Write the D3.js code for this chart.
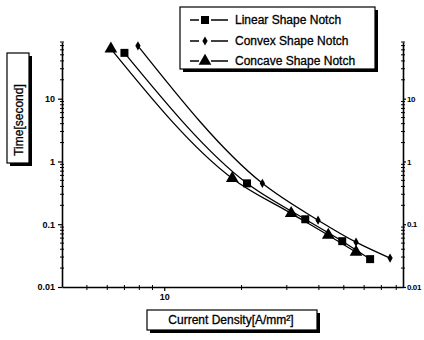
<!DOCTYPE html>
<html lang="en">
<head>
  <meta charset="UTF-8">
  <title>Notch time vs current density</title>
  <script src="https://d3js.org/d3.v7.min.js"></script>
  <style>
    body { margin: 0; background: #fff; }
    text { font-family: "Liberation Sans", Arial, sans-serif; fill: #000; }
  </style>
</head>
<body>
  <svg id="chart" width="424" height="340"></svg>
  <script>
    // data (current density A/mm2, time s)
    let seriesNames = ['Linear Shape Notch', 'Convex Shape Notch', 'Concave Shape Notch'];
    let linearX = [7.0, 21.0, 35.4, 49.3, 63.3];
    let linearY = [53.7, 0.448, 0.120, 0.0537, 0.0278];
    let convexX = [7.9, 24.1, 39.7, 55.8, 75.7];
    let convexY = [69.4, 0.448, 0.116, 0.0518, 0.0289];
    let concaveX = [6.2, 18.4, 31.2, 43.5, 55.8];
    let concaveY = [62.2, 0.537, 0.149, 0.0669, 0.0359];

    let yTicks = [0.01, 0.1, 1, 10];
    let yTickLabels = ['0.01', '0.1', '1', '10'];
    let xTicks = [10];
    let xTickLabels = ['10'];

    let svg = d3.select('#chart');

    let x = d3.scaleLog().domain([4, 85]).range([62, 403]);
    let y = d3.scaleLog().domain([0.01, 80]).range([287, 42]);

    // minor ticks for the log axes
    let yMinor = [];
    [0.01, 0.1, 1, 10].forEach(function (d) {
      for (let k = 2; k <= 9; k++) if (d * k <= 80) yMinor.push(d * k);
    });
    let xMinor = [5, 6, 7, 8, 9, 20, 30, 40, 50, 60, 70, 80];

    function styleAxis(g) {
      g.select('.domain').attr('stroke', '#000').attr('stroke-width', 1.6);
      g.selectAll('.tick line').attr('stroke', '#000').attr('stroke-width', 1.2);
      g.selectAll('text').attr('font-size', 9).attr('font-weight', 'bold');
    }

    // left axis
    svg.append('g')
      .attr('transform', 'translate(62,0)')
      .call(d3.axisLeft(y).tickValues(yTicks).tickSize(4).tickSizeOuter(0)
        .tickFormat(function (d, i) { return yTickLabels[i]; }))
      .call(styleAxis);
    svg.append('g').selectAll('line').data(yMinor).join('line')
      .attr('x1', 60).attr('x2', 64)
      .attr('y1', function (d) { return y(d); }).attr('y2', function (d) { return y(d); })
      .attr('stroke', '#000').attr('stroke-width', 1);

    // right axis (labels squeezed so 0.01 stays inside the window)
    svg.append('g')
      .attr('transform', 'translate(403,0)')
      .call(d3.axisRight(y).tickValues(yTicks).tickSize(3).tickPadding(1).tickSizeOuter(0)
        .tickFormat(function (d, i) { return yTickLabels[i]; }))
      .call(styleAxis)
      .call(function (g) { g.selectAll('text').attr('font-size', 8).attr('letter-spacing', -0.4); });
    svg.append('g').selectAll('line').data(yMinor).join('line')
      .attr('x1', 401).attr('x2', 405)
      .attr('y1', function (d) { return y(d); }).attr('y2', function (d) { return y(d); })
      .attr('stroke', '#000').attr('stroke-width', 1);

    // bottom axis
    svg.append('g')
      .attr('transform', 'translate(0,287)')
      .call(d3.axisBottom(x).tickValues(xTicks).tickSize(4).tickSizeOuter(0)
        .tickFormat(function (d, i) { return xTickLabels[i]; }))
      .call(styleAxis);
    svg.append('g').selectAll('line').data(xMinor).join('line')
      .attr('y1', 285).attr('y2', 290)
      .attr('x1', function (d) { return x(d); }).attr('x2', function (d) { return x(d); })
      .attr('stroke', '#000').attr('stroke-width', 1);

    // series
    let series = [
      { name: seriesNames[0], xs: linearX, ys: linearY, shape: 'square' },
      { name: seriesNames[1], xs: convexX, ys: convexY, shape: 'diamond' },
      { name: seriesNames[2], xs: concaveX, ys: concaveY, shape: 'triangle' }
    ];

    let symbols = {
      square: d3.symbol().type(d3.symbolSquare).size(64),
      diamond: d3.symbol().type(d3.symbolDiamond).size(24),
      triangle: d3.symbol().type(d3.symbolTriangle).size(70)
    };

    let line = d3.line()
      .x(function (d) { return x(d[0]); })
      .y(function (d) { return y(d[1]); })
      .curve(d3.curveMonotoneX);

    series.forEach(function (s) {
      let pts = s.xs.map(function (v, i) { return [v, s.ys[i]]; });
      svg.append('path')
        .attr('d', line(pts))
        .attr('fill', 'none')
        .attr('stroke', '#000')
        .attr('stroke-width', 1.3);
      svg.append('g').selectAll('path').data(pts).join('path')
        .attr('transform', function (d) { return 'translate(' + x(d[0]) + ',' + y(d[1]) + ')'; })
        .attr('d', symbols[s.shape]())
        .attr('fill', '#000');
    });

    // legend box with drop shadow
    let legend = svg.append('g');
    legend.append('rect').attr('x', 183).attr('y', 10).attr('width', 195).attr('height', 62).attr('fill', '#000');
    legend.append('rect').attr('x', 180).attr('y', 7).attr('width', 195).attr('height', 62)
      .attr('fill', '#fff').attr('stroke', '#000').attr('stroke-width', 1.2);
    let legendY = [20, 41, 61];
    series.forEach(function (s, i) {
      legend.append('line').attr('x1', 190).attr('x2', 228)
        .attr('y1', legendY[i]).attr('y2', legendY[i])
        .attr('stroke', '#000').attr('stroke-width', 1.3);
      legend.append('rect').attr('x', 199).attr('y', legendY[i] - 5).attr('width', 12).attr('height', 10).attr('fill', '#fff');
      legend.append('path')
        .attr('transform', 'translate(205,' + legendY[i] + ')')
        .attr('d', symbols[s.shape]())
        .attr('fill', '#000');
      legend.append('text').attr('x', 235).attr('y', legendY[i] + 4)
        .attr('font-size', 12).attr('stroke', '#000').attr('stroke-width', 0.3)
        .text(s.name);
    });

    // y title box
    svg.append('rect').attr('x', 10).attr('y', 56).attr('width', 22).attr('height', 110).attr('fill', '#000');
    svg.append('rect').attr('x', 7).attr('y', 53).attr('width', 22).attr('height', 110)
      .attr('fill', '#fff').attr('stroke', '#000').attr('stroke-width', 1.2);
    svg.append('text')
      .attr('transform', 'translate(23,120) rotate(-90)')
      .attr('text-anchor', 'middle')
      .attr('font-size', 12).attr('stroke', '#000').attr('stroke-width', 0.3)
      .text('Time[second]');

    // x title box
    svg.append('rect').attr('x', 150).attr('y', 313).attr('width', 170).attr('height', 20).attr('fill', '#000');
    svg.append('rect').attr('x', 147).attr('y', 310).attr('width', 170).attr('height', 20)
      .attr('fill', '#fff').attr('stroke', '#000').attr('stroke-width', 1.2);
    svg.append('text')
      .attr('x', 231).attr('y', 324)
      .attr('text-anchor', 'middle')
      .attr('font-size', 12).attr('stroke', '#000').attr('stroke-width', 0.3)
      .text('Current Density[A/mm²]');
  </script>
</body>
</html>
